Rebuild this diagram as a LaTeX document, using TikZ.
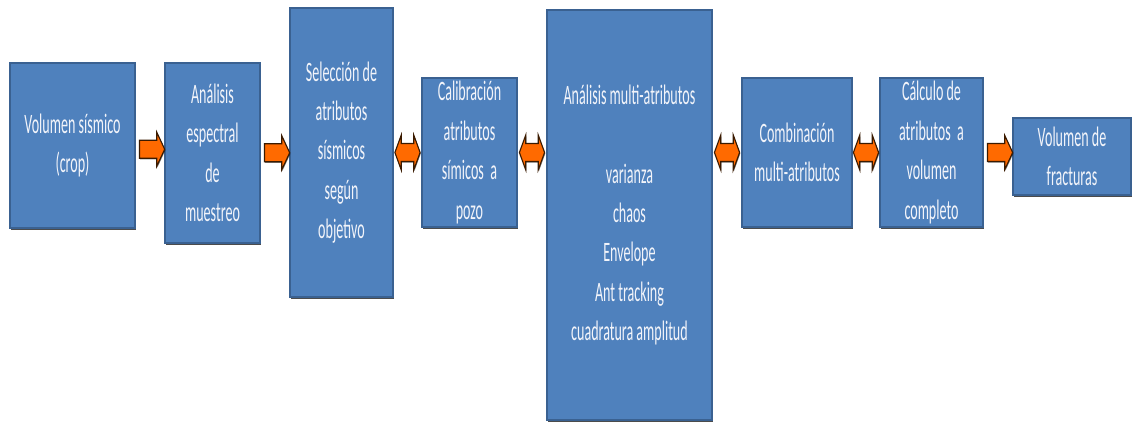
\documentclass[tikz,border=0pt]{standalone}
\usepackage{fontspec}
\setmainfont{Carlito}
\newfontfamily\boxfont[FakeStretch=0.5]{Carlito}
\usetikzlibrary{calc,shapes.arrows,shadows}
\definecolor{boxblue}{HTML}{4F81BD}
\definecolor{boxedge}{HTML}{3A6191}
\definecolor{boxtext}{HTML}{F2F4FA}
\definecolor{flow}{HTML}{FF6A00}
\definecolor{flowedge}{HTML}{3A1A00}
\tikzset{
  box/.style={draw=boxedge, line width=1.6pt, fill=boxblue, text=boxtext,
    align=center, inner sep=0pt, font=\boxfont\fontsize{20}{28}\selectfont,
    drop shadow={shadow xshift=0.4pt, shadow yshift=-1.4pt, opacity=.7, fill=black}},
  flowarrow/.style={draw=flowedge, fill=flow, line width=0.8pt,
    inner xsep=0pt, inner ysep=0.21cm, minimum height=0.63cm, minimum width=0pt,
    drop shadow={shadow xshift=0.5pt, shadow yshift=-0.8pt, opacity=.5, fill=black}},
  fwd/.style={flowarrow, single arrow, single arrow head extend=0.2cm, single arrow tip angle=130},
  both/.style={flowarrow, double arrow, double arrow head extend=0.21cm, double arrow tip angle=140}
}
\begin{document}
\begin{tikzpicture}[x=0.025cm, y=-0.025cm]
  \useasboundingbox (0,0) rectangle (1133,422);
  % process steps
  \node[box, minimum width=3.125cm, minimum height=4.125cm] (vol) at (72.5,145.5)
       {Volumen sísmico\\(crop)};
  \node[box, minimum width=2.375cm, minimum height=4.5cm] (esp) at (212.5,153)
       {Análisis\\espectral\\de\\muestreo};
  \node[box, minimum width=2.575cm, minimum height=7.225cm] (sel) at (341.5,152.5)
       {Selección de\\atributos\\sísmicos\\según\\objetivo};
  \node[box, minimum width=2.375cm, minimum height=3.725cm] (cal) at (469.5,152.5)
       {Calibración\\atributos\\símicos\ \ a\\pozo};
  \node[box, minimum width=4.125cm, minimum height=10.25cm] (multi) at (629.5,215)
       {Análisis multi-atributos\\[28pt]varianza\\chaos\\Envelope\\Ant tracking\\cuadratura amplitud};
  \node[box, minimum width=2.75cm, minimum height=3.725cm] (comb) at (797,152.5)
       {Combinación\\multi-atributos};
  \node[box, minimum width=2.575cm, minimum height=3.725cm] (calc) at (931.5,152.5)
       {Cálculo de\\atributos\ \ a\\volumen\\completo};
  \node[box, minimum width=2.95cm, minimum height=1.925cm] (frac) at (1072,156.5)
       {Volumen de\\fracturas};
  % arrows between steps
  \node[fwd] (a1) at ($(vol.east)!.5!(esp.west)$) {};
  \node[fwd] (a2) at ($(esp.east)!.5!(sel.west)$) {};
  \node[both] (a3) at ($(sel.east)!.5!(cal.west)$) {};
  \node[both] (a4) at ($(cal.east)!.5!(multi.west |- cal.east)$) {};
  \node[both] (a5) at ($(multi.east |- comb.west)!.5!(comb.west)$) {};
  \node[both] (a6) at ($(comb.east)!.5!(calc.west)$) {};
  \node[fwd] (a7) at ($(calc.east)!.5!(frac.west |- calc.east)$) {};
\end{tikzpicture}
\end{document}
